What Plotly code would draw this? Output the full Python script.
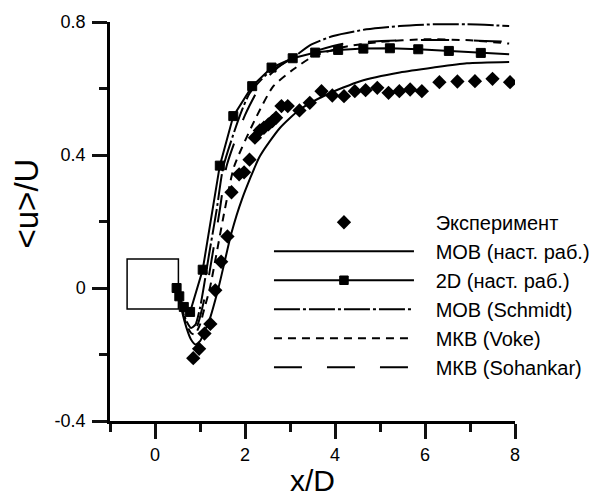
import plotly.graph_objects as go

# ---------------- data ----------------
exp_x = [0.85, 0.98, 1.10, 1.23, 1.34, 1.47, 1.61, 1.70, 1.87, 1.98, 2.10, 2.22, 2.33, 2.42,
         2.52, 2.61, 2.69, 2.81, 2.95, 3.21, 3.44, 3.70, 3.94, 4.20, 4.44, 4.68, 4.94, 5.19,
         5.43, 5.67, 5.93, 6.32, 6.72, 7.11, 7.50, 7.89]
exp_y = [-0.211, -0.183, -0.137, -0.108, -0.007, 0.079, 0.155, 0.288, 0.342, 0.348, 0.386,
         0.452, 0.474, 0.482, 0.492, 0.502, 0.512, 0.547, 0.547, 0.534, 0.557, 0.592, 0.579,
         0.577, 0.592, 0.595, 0.602, 0.587, 0.592, 0.597, 0.592, 0.619, 0.621, 0.622, 0.629,
         0.619]

mob_x = [0.5, 0.6, 0.7, 0.8, 0.9, 1.0, 1.1, 1.2, 1.41, 1.7, 1.93, 2.33, 2.78, 3.22, 3.82,
         4.56, 5.44, 6.19, 6.93, 7.87]
mob_y = [0.0, -0.07, -0.12, -0.155, -0.17, -0.16, -0.13, -0.1, 0.0, 0.166, 0.266, 0.396,
         0.482, 0.537, 0.582, 0.622, 0.648, 0.663, 0.676, 0.68]

d2_x = [0.48, 0.54, 0.64, 0.78, 1.06, 1.44, 1.74, 2.16, 2.59, 3.06, 3.56, 4.07, 4.63, 5.22,
        5.85, 6.53, 7.24, 7.87]
d2_y = [0.0, -0.025, -0.057, -0.072, 0.055, 0.368, 0.517, 0.607, 0.663, 0.691, 0.708, 0.716,
        0.72, 0.721, 0.718, 0.713, 0.707, 0.703]
d2_marked = [True] * 17 + [False]

schmidt_x = [0.5, 0.6, 0.7, 0.8, 0.9, 1.0, 1.08, 1.2, 1.37, 1.52, 1.89, 2.1, 2.5, 3.07, 3.44,
             3.96, 4.7, 5.44, 6.18, 6.93, 7.87]
schmidt_y = [0.0, -0.06, -0.1, -0.12, -0.11, -0.06, 0.0, 0.1, 0.235, 0.366, 0.52, 0.585,
             0.645, 0.693, 0.73, 0.758, 0.778, 0.788, 0.793, 0.793, 0.788]

voke_x = [0.5, 0.6, 0.7, 0.8, 0.88, 1.0, 1.1, 1.22, 1.55, 1.76, 2.26, 2.63, 3.07, 3.52, 4.2,
          5.0, 6.0, 7.0, 7.87]
voke_y = [0.0, -0.065, -0.11, -0.135, -0.14, -0.11, -0.06, 0.0, 0.235, 0.366, 0.517, 0.607,
          0.657, 0.697, 0.725, 0.74, 0.748, 0.745, 0.735]

sohankar_x = [0.5, 0.6, 0.7, 0.85, 0.95, 1.05, 1.15, 1.44, 1.59, 2.0, 2.4, 2.9, 3.5, 4.2,
              5.5, 7.0, 7.87]
sohankar_y = [0.0, -0.06, -0.105, -0.13, -0.11, -0.06, 0.0, 0.235, 0.366, 0.52, 0.62, 0.68,
              0.71, 0.735, 0.745, 0.745, 0.74]

cyl_x = [-0.62, 0.52]
cyl_y = [-0.063, 0.087]

x_range = [-1, 8]
y_range = [-0.4, 0.8]
y_tick_vals = [-0.4, 0, 0.4, 0.8]
y_tick_text = ["-0.4", "0", "0.4", "0.8"]

names = ["Эксперимент", "МОВ (наст. раб.)", "2D (наст. раб.)", "МОВ (Schmidt)",
         "МКВ (Voke)", "МКВ (Sohankar)"]
x_title = "x/D"
y_title = "&lt;u&gt;/U"

FONT = "Liberation Sans, Arial, sans-serif"
BLACK = "#000000"
TICK = "#111111"
PAD = "\u00a0\u00a0\u00a0"

fig = go.Figure()
fig.add_trace(go.Scatter(x=exp_x, y=exp_y, mode="markers", name=PAD + names[0], legendgroup="a",
                         marker=dict(symbol="diamond", size=11, color=BLACK, line=dict(width=0))))
fig.add_trace(go.Scatter(x=mob_x, y=mob_y, mode="lines", name=PAD + names[1], legendgroup="b",
                         line=dict(color=BLACK, width=2, shape="spline", smoothing=0.6)))
fig.add_trace(go.Scatter(x=d2_x, y=d2_y, mode="lines+markers", name=PAD + names[2], legendgroup="c",
                         line=dict(color=BLACK, width=2),
                         marker=dict(symbol="square", color=BLACK, opacity=1,
                                     line=dict(width=1, color=BLACK),
                                     size=[9 if m else 0 for m in d2_marked])))
fig.add_trace(go.Scatter(x=schmidt_x, y=schmidt_y, mode="lines", name=PAD + names[3], legendgroup="d",
                         line=dict(color=BLACK, width=2, dash="26px,3px,3px,3px",
                                   shape="spline", smoothing=0.6)))
fig.add_trace(go.Scatter(x=voke_x, y=voke_y, mode="lines", name=PAD + names[4], legendgroup="e",
                         line=dict(color=BLACK, width=2, dash="8px,6px",
                                   shape="spline", smoothing=0.6)))
fig.add_trace(go.Scatter(x=sohankar_x, y=sohankar_y, mode="lines", name=PAD + names[5], legendgroup="f",
                         line=dict(color=BLACK, width=2, dash="28px,25px",
                                   shape="spline", smoothing=0.6)))

fig.add_shape(type="rect", xref="x", yref="y", x0=cyl_x[0], x1=cyl_x[1], y0=cyl_y[0], y1=cyl_y[1],
              line=dict(color=BLACK, width=1.5), fillcolor="rgba(0,0,0,0)", layer="below")

# axis titles as annotations (paper coordinates)
fig.add_annotation(text=x_title, xref="paper", yref="paper", x=0.5, y=-0.148,
                   xanchor="center", yanchor="middle", showarrow=False,
                   font=dict(family=FONT, size=30, color=BLACK))
fig.add_annotation(text=y_title, xref="paper", yref="paper", x=-0.205, y=0.545,
                   xanchor="center", yanchor="middle", showarrow=False, textangle=-90,
                   font=dict(family=FONT, size=33, color=BLACK))

# page body has an 8px margin: figure is 8px smaller, margins shifted accordingly
fig.update_layout(
    width=589, height=491,
    margin=dict(l=102, r=82, t=14, b=78, autoexpand=False),
    paper_bgcolor="white", plot_bgcolor="white",
    font=dict(family=FONT, color=BLACK),
    showlegend=True,
)
fig.update_xaxes(range=x_range, tickmode="linear", tick0=0, dtick=2,
                 showline=True, linecolor=BLACK, linewidth=2.5,
                 ticks="outside", ticklen=15, tickwidth=2.5, tickcolor=TICK,
                 ticklabelstandoff=1,
                 showgrid=False, zeroline=False, automargin=False,
                 tickfont=dict(family=FONT, size=18, color=BLACK),
                 minor=dict(tickmode="linear", dtick=1, tick0=0, ticks="outside", ticklen=8,
                            tickwidth=2.5, tickcolor=TICK))
fig.update_yaxes(range=y_range, tickmode="array", tickvals=y_tick_vals, ticktext=y_tick_text,
                 showline=True, linecolor=BLACK, linewidth=2.5,
                 ticks="outside", ticklen=15, tickwidth=2.5, tickcolor=TICK,
                 ticklabelstandoff=3,
                 showgrid=False, zeroline=False, automargin=False,
                 tickfont=dict(family=FONT, size=18, color=BLACK),
                 minor=dict(tickmode="linear", dtick=0.2, tick0=0, ticks="outside", ticklen=8,
                            tickwidth=2.5, tickcolor=TICK))
fig.update_layout(legend=dict(x=0.3925, y=0.547, xanchor="left", yanchor="top", itemwidth=140,
                              font=dict(family=FONT, size=20, color=BLACK),
                              bgcolor="rgba(0,0,0,0)", tracegroupgap=9, traceorder="normal"))

fig.write_html("out.html")
